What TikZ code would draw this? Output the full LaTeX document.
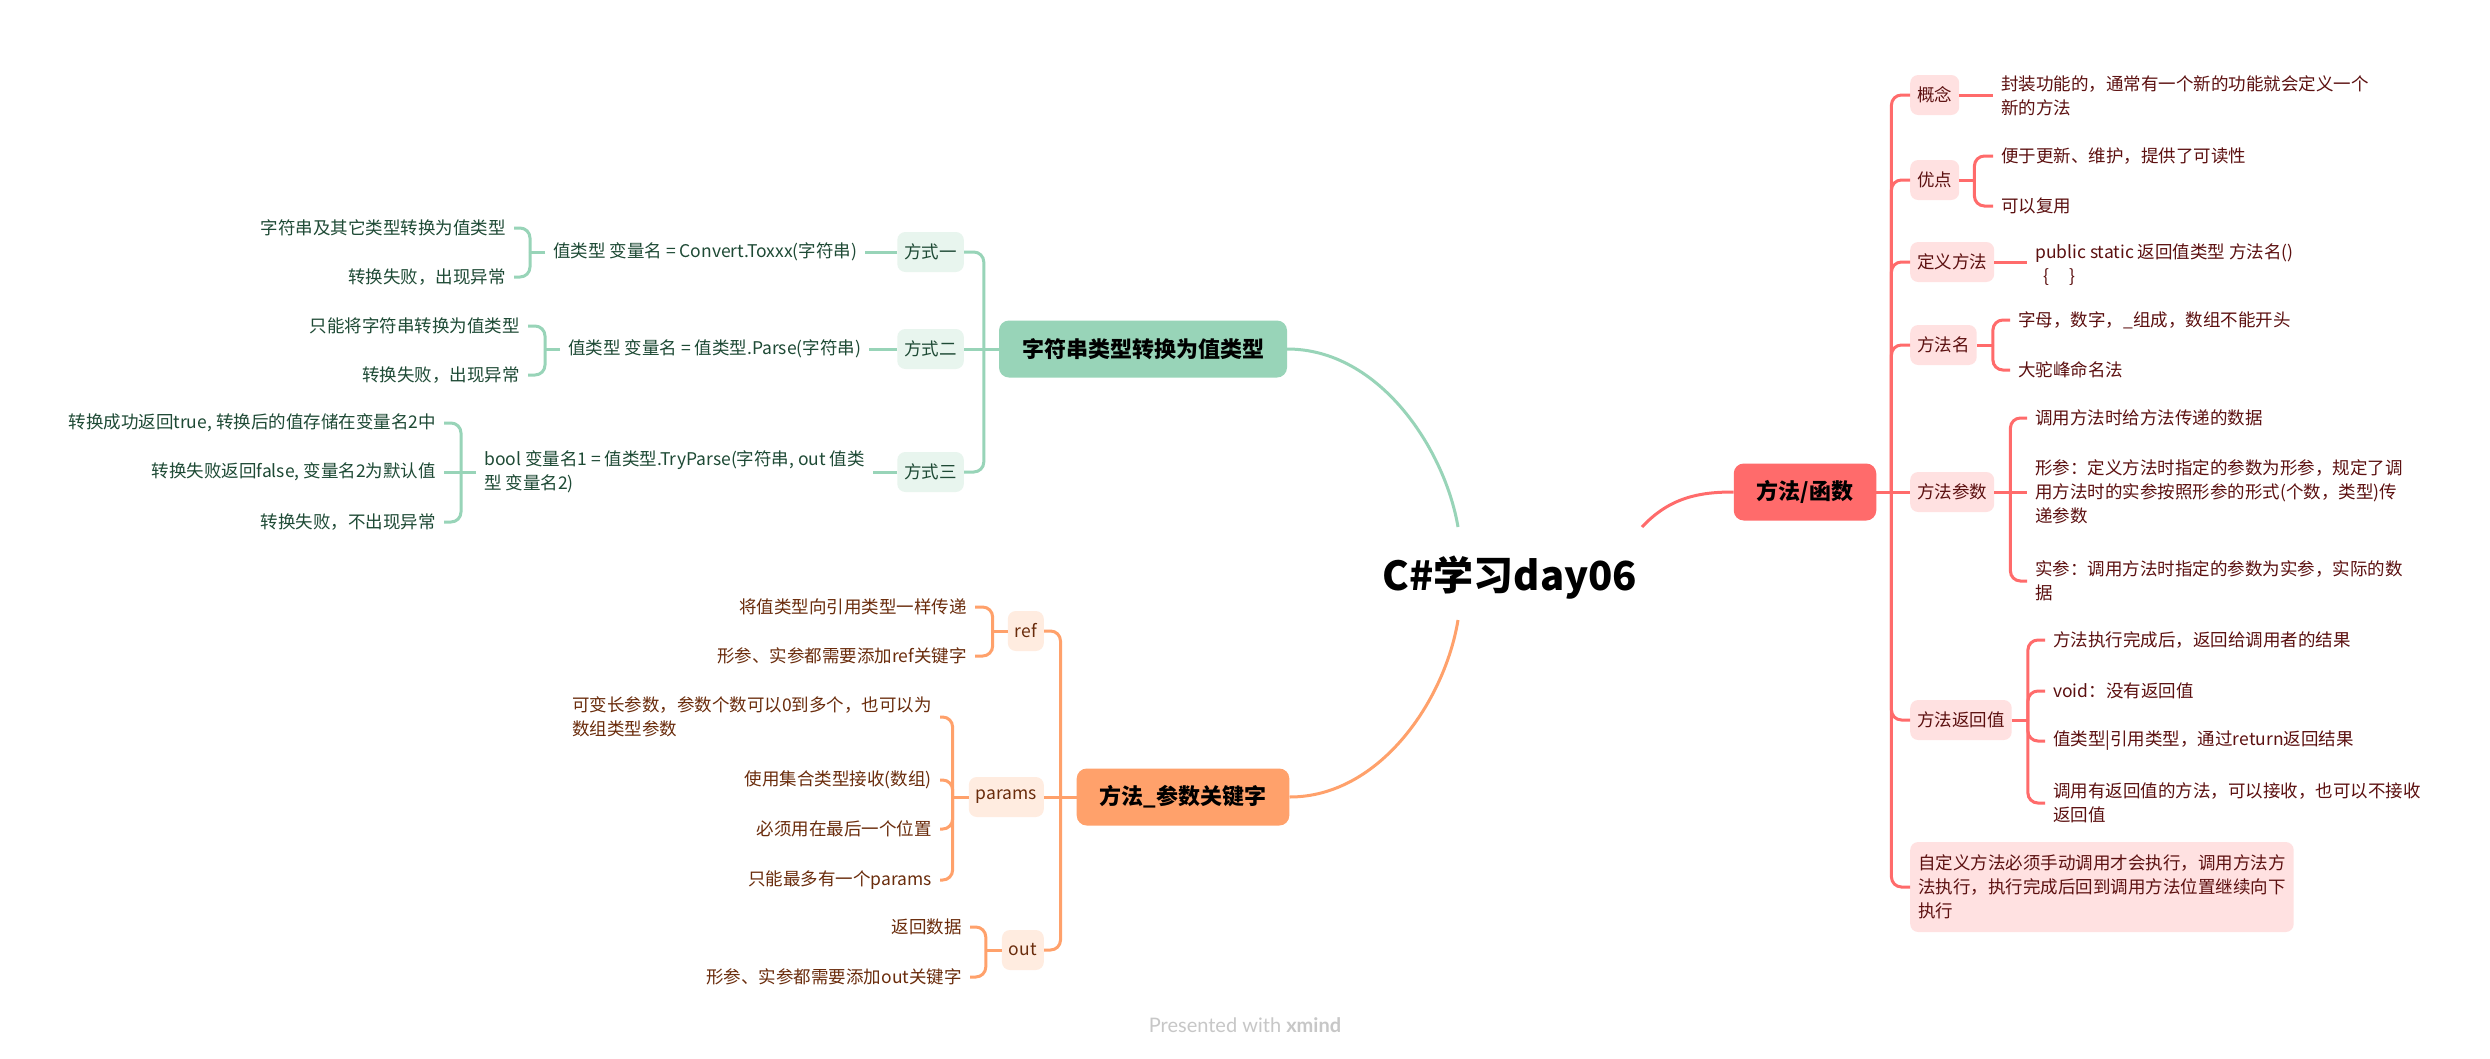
\documentclass[tikz,border=0pt]{standalone}
\usepackage{fontspec}
\setmainfont{Noto Sans CJK SC}
\newfontfamily\latofont{Lato}
\usetikzlibrary{calc}
\definecolor{rmain}{HTML}{FF6B6B}
\definecolor{rlight}{HTML}{FFE1E1}
\definecolor{rtext}{HTML}{5C1010}
\definecolor{gmain}{HTML}{98D4B8}
\definecolor{glight}{HTML}{E8F5EE}
\definecolor{gtext}{HTML}{1E4A35}
\definecolor{omain}{HTML}{FFA16B}
\definecolor{olight}{HTML}{FFECE0}
\definecolor{otext}{HTML}{6A2C0C}
\tikzset{
  rootnode/.style={font=\fontsize{40}{46}\selectfont\bfseries, inner sep=0pt},
  mainbox/.style={rounded corners=10pt, minimum height=57pt, inner xsep=23pt, inner ysep=0pt,
    font=\fontsize{22}{26}\selectfont\bfseries, text=black},
  subbox/.style={rounded corners=8pt, minimum height=40pt, inner xsep=7pt, inner ysep=0pt,
    font=\fontsize{17.5}{24}\selectfont},
  leaf/.style={inner xsep=8pt, inner ysep=2pt, font=\fontsize{17.5}{24}\selectfont, align=left},
  rsub/.style={subbox, fill=rlight, text=rtext},
  gsub/.style={subbox, fill=glight, text=gtext},
  osub/.style={subbox, fill=olight, text=otext},
  rleaf/.style={leaf, text=rtext, anchor=west},
  gleaf/.style={leaf, text=gtext, anchor=east},
  gleafw/.style={leaf, text=gtext, anchor=west},
  oleaf/.style={leaf, text=otext, anchor=east},
  rl/.style={draw=rmain, line width=3pt},
  gl/.style={draw=gmain, line width=3pt},
  ol/.style={draw=omain, line width=3pt},
  elbow/.style={rounded corners=10pt},
}
\begin{document}
\begin{tikzpicture}[x=1pt,y=-1pt]
\fill[white] (0,0) rectangle (2490,1058);
\useasboundingbox (0,0) rectangle (2490,1058);

% root
\node[rootnode] (root) at (1510,578) {C\#学习day06};
\coordinate (cg) at (1458,527);
\coordinate (cr) at (1642,527);
\coordinate (co) at (1458,620);

% ---------------- red branch ----------------
\node[mainbox, fill=rmain] (fn) at (1805,492) {方法/函数};
\node[rsub, anchor=west] (gn) at (1910,95) {概念};
\node[rsub, anchor=west] (yd) at (1910,180) {优点};
\node[rsub, anchor=west] (dy) at (1910,262) {定义方法};
\node[rsub, anchor=west] (fm) at (1910,345) {方法名};
\node[rsub, anchor=west] (cs) at (1910,492) {方法参数};
\node[rsub, anchor=west] (fh) at (1910,720) {方法返回值};
\node[leaf, fill=rlight, text=rtext, rounded corners=8pt, anchor=west, minimum height=90pt] (zd) at (1910,887)
  {自定义方法必须手动调用才会执行，调用方法方\\法执行，执行完成后回到调用方法位置继续向下\\执行};

\node[rleaf] (gn1) at (1993,96) {封装功能的，通常有一个新的功能就会定义一个\\新的方法};
\node[rleaf] (yd1) at (1993,156) {便于更新、维护，提供了可读性};
\node[rleaf] (yd2) at (1993,206) {可以复用};
\node[rleaf] (dy1) at (2027,265) {public static 返回值类型 方法名()\\\hspace*{8pt}\{\hspace{20pt}\}};
\node[rleaf] (fm1) at (2010,320) {字母，数字，\_组成，数组不能开头};
\node[rleaf] (fm2) at (2010,370) {大驼峰命名法};
\node[rleaf] (cs1) at (2027,418) {调用方法时给方法传递的数据};
\node[rleaf] (cs2) at (2027,492) {形参：定义方法时指定的参数为形参，规定了调\\用方法时的实参按照形参的形式(个数，类型)传\\递参数};
\node[rleaf] (cs3) at (2027,581) {实参：调用方法时指定的参数为实参，实际的数\\据};
\node[rleaf] (fh1) at (2045,640) {方法执行完成后，返回给调用者的结果};
\node[rleaf] (fh2) at (2045,691) {void：没有返回值};
\node[rleaf] (fh3) at (2045,741) {值类型|引用类型，通过return返回结果};
\node[rleaf] (fh4) at (2045,803) {调用有返回值的方法，可以接收，也可以不接收\\返回值};

\draw[rl] (cr) .. controls (1670,497) and (1700,492) .. (fn.west);
\draw[rl] (fn.east) -- ++(15,0) coordinate (pfn);
\foreach \c in {gn,yd,dy,fm,fh,zd} \draw[rl,elbow] (pfn) |- (\c.west);
\draw[rl] (pfn) -- (cs.west);
\draw[rl] (gn.east) -- (gn.east -| gn1.west);
\draw[rl] (yd.east) -- ++(15,0) coordinate (pyd);
\foreach \c in {yd1,yd2} \draw[rl,elbow] (pyd) |- (\c.west);
\draw[rl] (dy.east) -- (dy.east -| dy1.west);
\draw[rl] (fm.east) -- ++(16,0) coordinate (pfm);
\foreach \c in {fm1,fm2} \draw[rl,elbow] (pfm) |- (\c.west);
\draw[rl] (cs.east) -- ++(16,0) coordinate (pcs);
\foreach \c in {cs1,cs3} \draw[rl,elbow] (pcs) |- (\c.west);
\draw[rl] (pcs) -- (cs2.west);
\draw[rl] (fh.east) -- ++(16,0) coordinate (pfh);
\foreach \c in {fh1,fh2,fh3,fh4} \draw[rl,elbow] (pfh) |- (\c.west);

% ---------------- green branch ----------------
\node[mainbox, fill=gmain] (gb) at (1143,349) {字符串类型转换为值类型};
\node[gsub, anchor=east] (m1) at (964,252) {方式一};
\node[gsub, anchor=east] (m2) at (964,349) {方式二};
\node[gsub, anchor=east] (m3) at (964,472) {方式三};

\node[gleafw] (d1) at (545,252) {值类型 变量名 = Convert.Toxxx(字符串)};
\node[gleaf] (d1a) at (514,228) {字符串及其它类型转换为值类型};
\node[gleaf] (d1b) at (514,277) {转换失败，出现异常};
\node[gleafw] (d2) at (560,349) {值类型 变量名 = 值类型.Parse(字符串)};
\node[gleaf] (d2a) at (528,326) {只能将字符串转换为值类型};
\node[gleaf] (d2b) at (528,375) {转换失败，出现异常};
\node[gleafw] (d3) at (476,472) {bool 变量名1 = 值类型.TryParse(字符串, out 值类\\型 变量名2)};
\node[gleaf] (d3a) at (444,423) {转换成功返回true, 转换后的值存储在变量名2中};
\node[gleaf] (d3b) at (444,472) {转换失败返回false, 变量名2为默认值};
\node[gleaf] (d3c) at (444,522) {转换失败，不出现异常};

\draw[gl] (cg) .. controls (1445,450) and (1380,349) .. (gb.east);
\draw[gl] (gb.west) -- ++(-15,0) coordinate (pgb);
\foreach \c in {m1,m3} \draw[gl,elbow] (pgb) |- (\c.east);
\draw[gl] (pgb) -- (m2.east);
\draw[gl] (m1.west) -- (m1.west -| d1.east);
\draw[gl] (m2.west) -- (m2.west -| d2.east);
\draw[gl] (m3.west) -- (m3.west -| d3.east);
\draw[gl] (d1.west) -- ++(-15,0) coordinate (pd1);
\foreach \c in {d1a,d1b} \draw[gl,elbow] (pd1) |- (\c.east);
\draw[gl] (d2.west) -- ++(-15,0) coordinate (pd2);
\foreach \c in {d2a,d2b} \draw[gl,elbow] (pd2) |- (\c.east);
\draw[gl] (d3.west |- m3.west) -- ++(-15,0) coordinate (pd3);
\foreach \c in {d3a,d3c} \draw[gl,elbow] (pd3) |- (\c.east);
\draw[gl] (pd3) -- (d3b.east);

% ---------------- orange branch ----------------
\node[mainbox, fill=omain] (ob) at (1183,797) {方法\_参数关键字};
\node[osub, anchor=east] (ref) at (1044,631) {ref};
\node[osub, anchor=east] (par) at (1044,797) {params};
\node[osub, anchor=east] (out) at (1044,950) {out};

\node[oleaf] (ref1) at (975,607) {将值类型向引用类型一样传递};
\node[oleaf] (ref2) at (975,656) {形参、实参都需要添加ref关键字};
\node[oleaf] (par1) at (940,717) {可变长参数，参数个数可以0到多个，也可以为\\数组类型参数};
\node[oleaf] (par2) at (940,780) {使用集合类型接收(数组)};
\node[oleaf] (par3) at (940,829) {必须用在最后一个位置};
\node[oleaf] (par4) at (940,880) {只能最多有一个params};
\node[oleaf] (out1) at (970,927) {返回数据};
\node[oleaf] (out2) at (970,977) {形参、实参都需要添加out关键字};

\draw[ol] (co) .. controls (1445,700) and (1380,797) .. (ob.east);
\draw[ol] (ob.west) -- ++(-16,0) coordinate (pob);
\foreach \c in {ref,out} \draw[ol,elbow] (pob) |- (\c.east);
\draw[ol] (pob) -- (par.east);
\draw[ol] (ref.west) -- ++(-15,0) coordinate (pref);
\foreach \c in {ref1,ref2} \draw[ol,elbow] (pref) |- (\c.east);
\draw[ol] (par.west) -- ++(-16,0) coordinate (ppar);
\foreach \c in {par1,par2,par3,par4} \draw[ol,elbow] (ppar) |- (\c.east);
\draw[ol] (out.west) -- ++(-16,0) coordinate (pout);
\foreach \c in {out1,out2} \draw[ol,elbow] (pout) |- (\c.east);

% footer
\node[font=\latofont\fontsize{20}{24}\selectfont, text=black!22] (pw) at (1245,1025) {Presented with \textbf{xmind}};
\end{tikzpicture}
\end{document}
